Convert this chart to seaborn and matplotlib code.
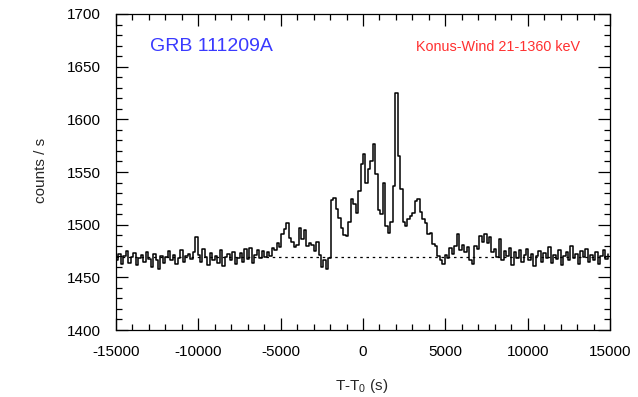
import numpy as np
import pandas as pd
import matplotlib
matplotlib.use("Agg")
import matplotlib.pyplot as plt
from matplotlib.ticker import MultipleLocator
import seaborn as sns

# ---- data (counts/s in 150 s bins, bin start times) ----
bin_width = 150
t_start = -15000
seg_pre = [1466, 1472, 1463, 1470, 1475, 1464, 1469, 1473, 1462, 1468,
           1471, 1465, 1474, 1467, 1460, 1472, 1466, 1458, 1470, 1464,
           1469, 1475, 1466, 1471, 1463, 1468, 1476, 1465, 1470, 1472,
           1467, 1474, 1488, 1471, 1465, 1477, 1469, 1462, 1473, 1466,
           1470, 1464, 1476, 1461, 1469, 1472, 1466, 1474, 1463, 1468,
           1473, 1465, 1477, 1467, 1478, 1464, 1471, 1476, 1468, 1475]
seg_precursor = [1469, 1474, 1470, 1478, 1476, 1483, 1479, 1491, 1496, 1502,
                 1487, 1484, 1479, 1481, 1497, 1486, 1495, 1480, 1483, 1481,
                 1475, 1484, 1471, 1460, 1466, 1458, 1468]
seg_main = [1523, 1525, 1515, 1506, 1497, 1490, 1489, 1503, 1524, 1520,
            1511, 1532, 1558, 1567, 1540, 1553, 1560, 1577, 1548, 1514,
            1510, 1540, 1499, 1492, 1503, 1537, 1625, 1565, 1534, 1503,
            1499, 1505, 1508, 1511, 1522, 1524, 1512, 1505, 1502, 1491,
            1492, 1482, 1480, 1470, 1466]
seg_tail = [1463, 1471, 1468, 1478, 1472, 1480, 1491, 1476, 1481, 1474,
            1479, 1466, 1463, 1480, 1477, 1489, 1484, 1491, 1483, 1488,
            1474, 1477, 1469, 1486, 1466, 1475, 1470, 1478, 1462, 1474,
            1468, 1476, 1465, 1471]
seg_post = [1477, 1466, 1472, 1461, 1470, 1475, 1465, 1473, 1468, 1479,
            1464, 1471, 1467, 1476, 1462, 1470, 1474, 1466, 1480, 1468,
            1472, 1463, 1475, 1469, 1477, 1465, 1471, 1466, 1474, 1463,
            1470, 1476, 1467, 1472]
counts = seg_pre + seg_precursor + seg_main + seg_tail + seg_post
times = t_start + bin_width * np.arange(len(counts))
background = 1469

grb_label = "GRB 111209A"
instr_label = "Konus-Wind 21-1360 keV"
x_ticks = [-15000, -10000, -5000, 0, 5000, 10000, 15000]
y_ticks = [1400, 1450, 1500, 1550, 1600, 1650, 1700]

df = pd.DataFrame({"t": times, "counts": counts})

sns.set_style("ticks")
plt.rcParams["font.family"] = ["Liberation Sans", "DejaVu Sans"]
plt.rcParams["mathtext.fontset"] = "custom"
plt.rcParams["mathtext.rm"] = "Liberation Sans"
plt.rcParams["axes.unicode_minus"] = False

fig = plt.figure(figsize=(6.38, 3.97), dpi=100)
ax = fig.add_axes([116 / 638, 1 - 330 / 397, 494 / 638, 316 / 397])

ax.axhline(background, color="black", lw=0.9, ls=(0, (2, 3)), zorder=1)
sns.lineplot(data=df, x="t", y="counts", ax=ax, color="black", lw=1.1,
             drawstyle="steps-post", zorder=2)

ax.set_xlim(-15000, 15000)
ax.set_ylim(1400, 1700)
ax.set_xticks(x_ticks)
ax.set_yticks(y_ticks)
ax.xaxis.set_minor_locator(MultipleLocator(1000))
ax.yaxis.set_minor_locator(MultipleLocator(10))
ax.tick_params(which="both", direction="in", top=True, right=True,
               colors="black", width=0.9)
ax.tick_params(which="major", length=8.5, labelsize=11, pad=11)
ax.tick_params(which="minor", length=4.3)
for s in ax.spines.values():
    s.set_visible(True)
    s.set_color("black")
    s.set_linewidth(0.9)

ax.set_xlabel(r"T-T$_\mathregular{0}$ (s)", fontsize=11)
ax.set_ylabel("counts / s", fontsize=11)
ax.xaxis.set_label_coords(0.498, -0.148)
ax.yaxis.set_label_coords(-0.138, 0.506)

ax.text(0.069, 0.896, grb_label, transform=ax.transAxes, color="#3a3aff",
        fontsize=14, ha="left", va="center")
ax.text(0.939, 0.896, instr_label, transform=ax.transAxes, color="#ff3030",
        fontsize=10.4, ha="right", va="center")

fig.savefig("out.png", dpi=100)
